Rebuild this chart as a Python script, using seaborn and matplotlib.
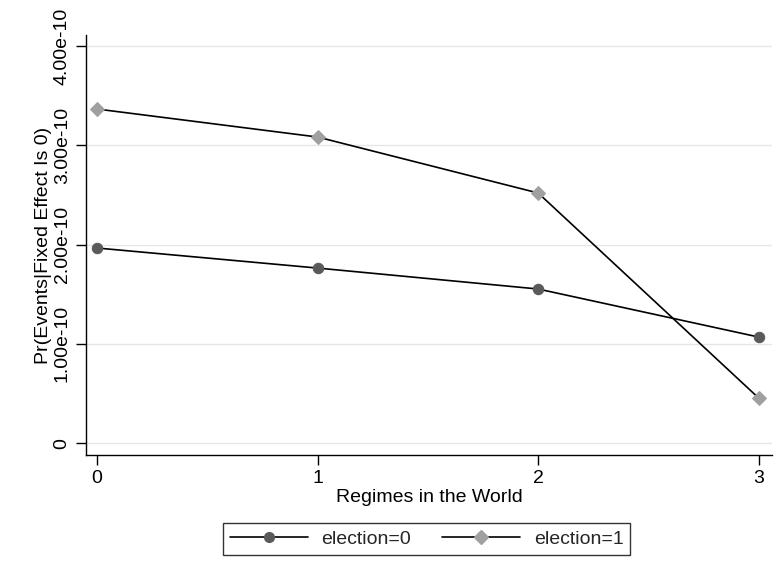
import matplotlib
matplotlib.use("Agg")
import matplotlib.pyplot as plt
import seaborn as sns
import pandas as pd
from matplotlib.ticker import FuncFormatter
from matplotlib.lines import Line2D

regimes = [0, 1, 2, 3]
election0 = [1.965e-10, 1.763e-10, 1.552e-10, 1.068e-10]
election1 = [3.365e-10, 3.083e-10, 2.519e-10, 0.453e-10]
y_ticks = [0, 1e-10, 2e-10, 3e-10, 4e-10]

df = pd.DataFrame({
    "regimes": regimes * 2,
    "prob": election0 + election1,
    "group": ["election=0"] * 4 + ["election=1"] * 4,
})

sns.set_theme(style="white")
plt.rcParams["font.family"] = ["Liberation Sans", "DejaVu Sans"]

FS = 14

fig = plt.figure(figsize=(7.79, 5.75), dpi=100)
ax = fig.add_axes([0.1104, 0.2087, 0.8806, 0.7303])

for y in y_ticks:
    ax.axhline(y, color="#e6e6e6", lw=1.0, zorder=0)

styles = {
    "election=0": dict(marker="o", color="#5a5a5a", ms=7.5),
    "election=1": dict(marker="D", color="#a0a0a0", ms=7.5),
}
handles = []
for name, sub in df.groupby("group"):
    st = styles[name]
    sns.lineplot(data=sub, x="regimes", y="prob", ax=ax, color="black", lw=1.2,
                 marker=st["marker"], markersize=st["ms"],
                 markerfacecolor=st["color"], markeredgecolor=st["color"],
                 legend=False, zorder=3)
    handles.append(Line2D([], [], color="black", lw=1.2, marker=st["marker"],
                          markersize=st["ms"] - 0.5, markerfacecolor=st["color"],
                          markeredgecolor=st["color"], label=name))

ax.set_xlim(-0.05, 3.06)
ax.set_ylim(-0.12e-10, 4.11e-10)
ax.set_xticks(regimes)
ax.set_yticks(y_ticks)

def fmt(v, pos):
    return "0" if v == 0 else f"{v:.2e}"

ax.yaxis.set_major_formatter(FuncFormatter(fmt))
for lab in ax.get_yticklabels():
    lab.set_rotation(90)
    lab.set_va("center")

ax.tick_params(axis="both", which="major", direction="out", length=7, width=1,
               color="black", labelsize=FS, labelcolor="black", pad=4, left=True, bottom=True)
sns.despine(ax=ax, top=True, right=True)
for s in ["left", "bottom"]:
    ax.spines[s].set_color("black")
    ax.spines[s].set_linewidth(1.0)

ax.set_xlabel("Regimes in the World", fontsize=FS, color="black", labelpad=1)
ax.set_ylabel("Pr(Events|Fixed Effect Is 0)", fontsize=FS, color="black", labelpad=1)

leg = fig.legend(handles=handles, loc="center", bbox_to_anchor=(0.548, 0.0626), ncol=2,
                 frameon=True, fancybox=False, edgecolor="black", fontsize=FS,
                 handlelength=4.0, handletextpad=0.7, columnspacing=1.6, borderpad=0.35)
leg.get_frame().set_linewidth(1.0)

fig.savefig("out.png", dpi=100)
